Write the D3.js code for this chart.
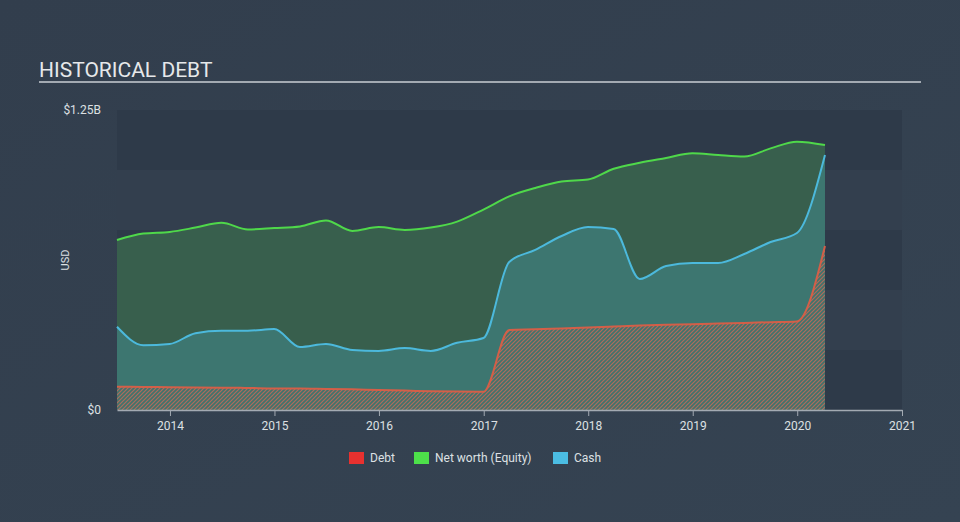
<!DOCTYPE html>
<html>
<head>
<meta charset="utf-8">
<script src="https://cdn.jsdelivr.net/npm/d3@7/dist/d3.min.js"></script>
<style>
html,body{margin:0;padding:0;background:#333f4e;}
svg{display:block;font-family:Roboto,"Open Sans",sans-serif;}
</style>
</head>
<body>
<svg id="chart" width="960" height="522"></svg>
<script>
const dates = ["2013-06-30","2013-09-30","2013-12-31","2014-03-31","2014-06-30","2014-09-30","2014-12-31","2015-03-31","2015-06-30","2015-09-30","2015-12-31","2016-03-31","2016-06-30","2016-09-30","2016-12-31","2017-03-31","2017-06-30","2017-09-30","2017-12-31","2018-03-31","2018-06-30","2018-09-30","2018-12-31","2019-03-31","2019-06-30","2019-09-30","2019-12-31","2020-04-07"];
const equity = [0.708,0.735,0.742,0.76,0.78,0.752,0.758,0.765,0.79,0.746,0.762,0.75,0.76,0.785,0.835,0.89,0.925,0.952,0.96,1.005,1.03,1.05,1.07,1.062,1.056,1.09,1.118,1.104];
const cash = [0.347,0.27,0.275,0.32,0.33,0.33,0.3375,0.2625,0.275,0.25,0.246,0.258,0.246,0.28,0.30,0.617,0.667,0.725,0.7625,0.754,0.546,0.6,0.6125,0.6125,0.65,0.70,0.7375,1.0625];
const debt = [0.097,0.096,0.095,0.094,0.093,0.092,0.09,0.09,0.088,0.086,0.083,0.081,0.078,0.077,0.076,0.333,0.336,0.34,0.344,0.348,0.352,0.355,0.357,0.36,0.363,0.366,0.369,0.683];
const yearTicks = ["2014","2015","2016","2017","2018","2019","2020","2021"];
const yTickLabels = ["$0","$1.25B"];
const legendItems = ["Debt","Net worth (Equity)","Cash"];

const svg = d3.select("#chart");
const parse = d3.timeParse("%Y-%m-%d");
const pDates = dates.map(parse);

const x = d3.scaleTime().domain([parse("2013-06-30"), parse("2021-01-01")]).range([117, 902]);
const y = d3.scaleLinear().domain([0, 1.25]).range([410, 110]);

const defs = svg.append("defs");
const bg = defs.append("linearGradient").attr("id","bg").attr("x1",0).attr("y1",0).attr("x2",1).attr("y2",1);
bg.append("stop").attr("offset","0%").attr("stop-color","#323e4d");
bg.append("stop").attr("offset","100%").attr("stop-color","#354352");
svg.append("rect").attr("width",960).attr("height",522).attr("fill","url(#bg)");

const pat = defs.append("pattern").attr("id","hatch").attr("patternUnits","userSpaceOnUse")
  .attr("width",4).attr("height",4);
pat.append("rect").attr("width",4).attr("height",4).attr("fill","#3f736c");
pat.append("path").attr("d","M-1,1 l2,-2 M0,4 l4,-4 M3,5 l2,-2")
  .attr("stroke","#ae6b5b").attr("stroke-width",1.2);

const bandEdges = d3.range(0, 1.25, 0.25);
svg.append("g").selectAll("rect").data(bandEdges).join("rect")
  .attr("x", 117).attr("width", 902-117)
  .attr("y", d => y(d+0.25)).attr("height", d => y(d)-y(d+0.25))
  .attr("fill", (d,i) => i%2===0 ? "#2e3a49" : "#333f4e");

svg.append("text").attr("x",39).attr("y",77).attr("fill","#e6e8ea")
  .attr("font-size",21).text("HISTORICAL DEBT");
svg.append("line").attr("x1",39).attr("x2",921).attr("y1",82).attr("y2",82)
  .attr("stroke","#a3aab2").attr("stroke-width",2);

const curve = d3.curveMonotoneX;
const mk = arr => pDates.map((d,i)=>({d, v:arr[i]}));
const area = d3.area().x(p=>x(p.d)).y0(y(0)).y1(p=>y(p.v)).curve(curve);
const line = d3.line().x(p=>x(p.d)).y(p=>y(p.v)).curve(curve);

svg.append("path").datum(mk(equity)).attr("d",area).attr("fill","#385f4d");
svg.append("path").datum(mk(cash)).attr("d",area).attr("fill","#3d7670");
svg.append("path").datum(mk(debt)).attr("d",area).attr("fill","url(#hatch)");

svg.append("path").datum(mk(equity)).attr("d",line).attr("fill","none").attr("stroke","#4fd84a").attr("stroke-width",2);
svg.append("path").datum(mk(cash)).attr("d",line).attr("fill","none").attr("stroke","#4cb9dc").attr("stroke-width",2);
svg.append("path").datum(mk(debt)).attr("d",line).attr("fill","none").attr("stroke","#d35f48").attr("stroke-width",2);

const xAxis = d3.axisBottom(x)
  .tickValues(yearTicks.map(t=>parse(t+"-01-01")))
  .tickFormat(d3.timeFormat("%Y")).tickSize(6).tickSizeOuter(0);
const gx = svg.append("g").attr("transform","translate(0,410)").call(xAxis);
gx.select(".domain").attr("stroke","#a3aab2").attr("stroke-width",1.5);
gx.selectAll(".tick line").attr("stroke","#a3aab2");
gx.selectAll(".tick text").attr("fill","#dde0e3").attr("font-size",12).attr("dy","0.95em")
  .attr("font-family","Roboto,sans-serif");

const yAxis = d3.axisLeft(y).tickValues([0,1.25]).tickFormat((d,i)=>yTickLabels[i]).tickSize(0).tickPadding(16);
const gy = svg.append("g").attr("transform","translate(117,0)").call(yAxis);
gy.select(".domain").remove();
gy.selectAll(".tick text").attr("fill","#dde0e3").attr("font-size",12).attr("font-family","Roboto,sans-serif");

svg.append("text").attr("transform","translate(69,260) rotate(-90)").attr("text-anchor","middle")
  .attr("fill","#dde0e3").attr("font-size",11).text("USD");

const legColors = ["#e8312f","#4de04a","#4bbde3"];
const legX = [349, 414, 553];
const lg = svg.append("g");
legendItems.forEach((t,i)=>{
  lg.append("rect").attr("x",legX[i]).attr("y",452).attr("width",15).attr("height",12).attr("fill",legColors[i]);
  lg.append("text").attr("x",legX[i]+21).attr("y",462).attr("fill","#dde0e3").attr("font-size",12).text(t);
});
</script>
</body>
</html>
